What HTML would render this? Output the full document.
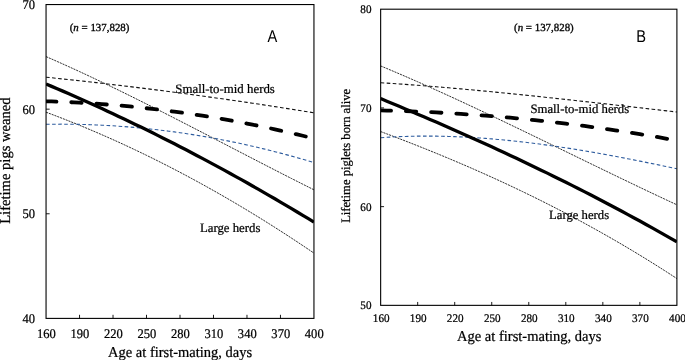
<!DOCTYPE html>
<html lang="en"><head><meta charset="utf-8"><title>Lifetime performance by age at first-mating</title>
<style>
html,body{margin:0;padding:0;background:#fff;}
body{width:685px;height:360px;overflow:hidden;}
svg{display:block;will-change:transform;}
text{font-family:"Liberation Serif",serif;text-rendering:geometricPrecision;fill:#000;stroke:#000;stroke-width:0.24px;}
.sans{font-family:"Liberation Sans",sans-serif;stroke:none;}
.n{stroke-width:0.34px;}
</style></head><body>
<svg width="685" height="360" viewBox="0 0 685 360">
<rect width="685" height="360" fill="#fff"/>

<g id="panelA">
<clipPath id="ca"><rect x="46.05" y="4.55" width="267.90" height="313.85"/></clipPath>
<g clip-path="url(#ca)" fill="none">
<path d="M46.05,56.60 L51.63,59.03 L57.21,61.49 L62.79,63.98 L68.38,66.50 L73.96,69.04 L79.54,71.60 L85.12,74.19 L90.70,76.81 L96.28,79.44 L101.86,82.10 L107.44,84.77 L113.02,87.47 L118.61,90.18 L124.19,92.92 L129.77,95.66 L135.35,98.43 L140.93,101.21 L146.51,104.00 L152.09,106.81 L157.67,109.62 L163.26,112.45 L168.84,115.29 L174.42,118.14 L180.00,121.00 L185.58,123.87 L191.16,126.74 L196.74,129.62 L202.32,132.50 L207.91,135.39 L213.49,138.28 L219.07,141.17 L224.65,144.06 L230.23,146.96 L235.81,149.85 L241.39,152.74 L246.97,155.63 L252.56,158.52 L258.14,161.40 L263.72,164.28 L269.30,167.15 L274.88,170.01 L280.46,172.87 L286.04,175.72 L291.62,178.56 L297.21,181.39 L302.79,184.20 L308.37,187.01 L313.95,189.80" stroke="#000" stroke-width="0.82" stroke-dasharray="2.1 0.9"/>
<path d="M46.05,112.20 L51.63,114.29 L57.21,116.42 L62.79,118.58 L68.38,120.78 L73.96,123.01 L79.54,125.28 L85.12,127.59 L90.70,129.93 L96.28,132.31 L101.86,134.73 L107.44,137.18 L113.02,139.66 L118.61,142.18 L124.19,144.74 L129.77,147.34 L135.35,149.97 L140.93,152.63 L146.51,155.33 L152.09,158.07 L157.67,160.85 L163.26,163.66 L168.84,166.50 L174.42,169.38 L180.00,172.30 L185.58,175.25 L191.16,178.24 L196.74,181.27 L202.32,184.33 L207.91,187.43 L213.49,190.56 L219.07,193.73 L224.65,196.93 L230.23,200.17 L235.81,203.45 L241.39,206.76 L246.97,210.11 L252.56,213.50 L258.14,216.92 L263.72,220.37 L269.30,223.87 L274.88,227.40 L280.46,230.96 L286.04,234.56 L291.62,238.20 L297.21,241.87 L302.79,245.58 L308.37,249.32 L313.95,253.10" stroke="#000" stroke-width="0.82" stroke-dasharray="2.1 0.9"/>
<path d="M46.05,77.20 L51.63,77.78 L57.21,78.36 L62.79,78.96 L68.38,79.56 L73.96,80.16 L79.54,80.78 L85.12,81.40 L90.70,82.02 L96.28,82.66 L101.86,83.30 L107.44,83.95 L113.02,84.60 L118.61,85.26 L124.19,85.93 L129.77,86.61 L135.35,87.29 L140.93,87.98 L146.51,88.67 L152.09,89.38 L157.67,90.09 L163.26,90.81 L168.84,91.53 L174.42,92.26 L180.00,93.00 L185.58,93.75 L191.16,94.50 L196.74,95.26 L202.32,96.02 L207.91,96.80 L213.49,97.58 L219.07,98.36 L224.65,99.16 L230.23,99.96 L235.81,100.76 L241.39,101.58 L246.97,102.40 L252.56,103.23 L258.14,104.06 L263.72,104.91 L269.30,105.76 L274.88,106.61 L280.46,107.47 L286.04,108.35 L291.62,109.22 L297.21,110.11 L302.79,111.00 L308.37,111.90 L313.95,112.80" stroke="#111" stroke-width="1.1" stroke-dasharray="3.6 2.45"/>
<path d="M46.05,124.30 L51.63,124.22 L57.21,124.18 L62.79,124.17 L68.38,124.21 L73.96,124.28 L79.54,124.38 L85.12,124.53 L90.70,124.71 L96.28,124.93 L101.86,125.19 L107.44,125.48 L113.02,125.81 L118.61,126.18 L124.19,126.59 L129.77,127.03 L135.35,127.51 L140.93,128.03 L146.51,128.58 L152.09,129.18 L157.67,129.81 L163.26,130.47 L168.84,131.18 L174.42,131.92 L180.00,132.70 L185.58,133.52 L191.16,134.37 L196.74,135.26 L202.32,136.19 L207.91,137.16 L213.49,138.16 L219.07,139.20 L224.65,140.28 L230.23,141.39 L235.81,142.55 L241.39,143.74 L246.97,144.96 L252.56,146.23 L258.14,147.53 L263.72,148.87 L269.30,150.24 L274.88,151.66 L280.46,153.11 L286.04,154.60 L291.62,156.12 L297.21,157.69 L302.79,159.29 L308.37,160.92 L313.95,162.60" stroke="#2e5c9e" stroke-width="1.1" stroke-dasharray="3.6 2.45"/>
<path d="M46.05,84.00 L51.63,86.36 L57.21,88.74 L62.79,91.14 L68.38,93.57 L73.96,96.02 L79.54,98.48 L85.12,100.98 L90.70,103.49 L96.28,106.02 L101.86,108.58 L107.44,111.16 L113.02,113.76 L118.61,116.39 L124.19,119.03 L129.77,121.70 L135.35,124.39 L140.93,127.10 L146.51,129.83 L152.09,132.59 L157.67,135.37 L163.26,138.17 L168.84,140.99 L174.42,143.83 L180.00,146.70 L185.58,149.59 L191.16,152.50 L196.74,155.43 L202.32,158.38 L207.91,161.36 L213.49,164.36 L219.07,167.38 L224.65,170.42 L230.23,173.49 L235.81,176.57 L241.39,179.68 L246.97,182.81 L252.56,185.97 L258.14,189.14 L263.72,192.34 L269.30,195.56 L274.88,198.80 L280.46,202.06 L286.04,205.34 L291.62,208.65 L297.21,211.98 L302.79,215.33 L308.37,218.70 L313.95,222.10" stroke="#000" stroke-width="3.3"/>
<path d="M46.05,101.30 L51.63,101.46 L57.21,101.65 L62.79,101.87 L68.38,102.11 L73.96,102.38 L79.54,102.67 L85.12,102.99 L90.70,103.33 L96.28,103.70 L101.86,104.10 L107.44,104.53 L113.02,104.97 L118.61,105.45 L124.19,105.95 L129.77,106.48 L135.35,107.03 L140.93,107.61 L146.51,108.22 L152.09,108.85 L157.67,109.51 L163.26,110.19 L168.84,110.90 L174.42,111.64 L180.00,112.40 L185.58,113.19 L191.16,114.00 L196.74,114.84 L202.32,115.71 L207.91,116.60 L213.49,117.52 L219.07,118.46 L224.65,119.43 L230.23,120.43 L235.81,121.45 L241.39,122.50 L246.97,123.58 L252.56,124.68 L258.14,125.80 L263.72,126.95 L269.30,128.13 L274.88,129.34 L280.46,130.57 L286.04,131.83 L291.62,133.11 L297.21,134.42 L302.79,135.75 L308.37,137.11 L313.95,138.50" stroke="#000" stroke-width="3.8" stroke-linecap="round" stroke-dasharray="10.4 14.82"/>
</g>
<rect x="46.05" y="4.55" width="267.90" height="313.85" fill="none" stroke="#000" stroke-width="1.1"/>
<path d="M79.54,318.4 v-3.6 M113.02,318.4 v-3.6 M146.51,318.4 v-3.6 M180.00,318.4 v-3.6 M213.49,318.4 v-3.6 M246.97,318.4 v-3.6 M280.46,318.4 v-3.6 M46.05,109.17 h3.6 M46.05,213.78 h3.6" stroke="#000" stroke-width="0.9" fill="none"/>
<text transform="translate(35.10,8.90) scale(0.95,1)" font-size="13.2" text-anchor="end">70</text>
<text transform="translate(35.10,113.52) scale(0.95,1)" font-size="13.2" text-anchor="end">60</text>
<text transform="translate(35.10,218.13) scale(0.95,1)" font-size="13.2" text-anchor="end">50</text>
<text transform="translate(35.10,322.75) scale(0.95,1)" font-size="13.2" text-anchor="end">40</text>
<text transform="translate(46.35,338.30) scale(0.95,1)" font-size="13.2" text-anchor="middle">160</text>
<text transform="translate(79.84,338.30) scale(0.95,1)" font-size="13.2" text-anchor="middle">190</text>
<text transform="translate(113.32,338.30) scale(0.95,1)" font-size="13.2" text-anchor="middle">220</text>
<text transform="translate(146.81,338.30) scale(0.95,1)" font-size="13.2" text-anchor="middle">250</text>
<text transform="translate(180.30,338.30) scale(0.95,1)" font-size="13.2" text-anchor="middle">280</text>
<text transform="translate(213.79,338.30) scale(0.95,1)" font-size="13.2" text-anchor="middle">310</text>
<text transform="translate(247.27,338.30) scale(0.95,1)" font-size="13.2" text-anchor="middle">340</text>
<text transform="translate(280.76,338.30) scale(0.95,1)" font-size="13.2" text-anchor="middle">370</text>
<text transform="translate(314.25,338.30) scale(0.95,1)" font-size="13.2" text-anchor="middle">400</text>
<text transform="translate(180.10,356.90) scale(0.96,1)" font-size="15.1" text-anchor="middle">Age at first-mating, days</text>
<text transform="translate(9.80,160.60) rotate(-90) scale(0.967,1)" font-size="15.1" text-anchor="middle">Lifetime pigs weaned</text>
<text class="n" transform="translate(69.70,31.40)" font-size="10.9">(<tspan font-style="italic">n</tspan> = 137,828)</text>
<text class="sans" transform="translate(267.40,41.70) scale(0.86,1)" font-size="17">A</text>
<text transform="translate(175.30,93.20)" font-size="12.85">Small-to-mid herds</text>
<text transform="translate(199.90,231.80)" font-size="12.8">Large herds</text>
</g>
<g id="panelB">
<clipPath id="cb"><rect x="380.65" y="9.2" width="296.25" height="296.15"/></clipPath>
<g clip-path="url(#cb)" fill="none">
<path d="M380.65,65.93 L386.82,68.51 L392.99,71.12 L399.17,73.76 L405.34,76.42 L411.51,79.10 L417.68,81.81 L423.85,84.55 L430.02,87.30 L436.20,90.08 L442.37,92.87 L448.54,95.69 L454.71,98.52 L460.88,101.37 L467.06,104.24 L473.23,107.12 L479.40,110.02 L485.57,112.93 L491.74,115.85 L497.92,118.78 L504.09,121.73 L510.26,124.68 L516.43,127.65 L522.60,130.62 L528.77,133.60 L534.95,136.58 L541.12,139.57 L547.29,142.57 L553.46,145.57 L559.63,148.57 L565.81,151.57 L571.98,154.57 L578.15,157.58 L584.32,160.58 L590.49,163.58 L596.67,166.57 L602.84,169.56 L609.01,172.55 L615.18,175.53 L621.35,178.51 L627.52,181.47 L633.70,184.43 L639.87,187.38 L646.04,190.32 L652.21,193.25 L658.38,196.16 L664.56,199.06 L670.73,201.95 L676.90,204.82" stroke="#000" stroke-width="0.82" stroke-dasharray="2.1 0.9"/>
<path d="M380.65,131.58 L386.82,133.89 L392.99,136.23 L399.17,138.59 L405.34,140.97 L411.51,143.38 L417.68,145.81 L423.85,148.27 L430.02,150.76 L436.20,153.27 L442.37,155.81 L448.54,158.38 L454.71,160.98 L460.88,163.61 L467.06,166.26 L473.23,168.95 L479.40,171.67 L485.57,174.42 L491.74,177.20 L497.92,180.02 L504.09,182.87 L510.26,185.75 L516.43,188.67 L522.60,191.62 L528.77,194.61 L534.95,197.63 L541.12,200.69 L547.29,203.79 L553.46,206.93 L559.63,210.11 L565.81,213.32 L571.98,216.58 L578.15,219.87 L584.32,223.21 L590.49,226.59 L596.67,230.01 L602.84,233.47 L609.01,236.98 L615.18,240.53 L621.35,244.12 L627.52,247.76 L633.70,251.45 L639.87,255.18 L646.04,258.96 L652.21,262.79 L658.38,266.66 L664.56,270.58 L670.73,274.56 L676.90,278.58" stroke="#000" stroke-width="0.82" stroke-dasharray="2.1 0.9"/>
<path d="M380.65,82.70 L386.82,83.10 L392.99,83.51 L399.17,83.93 L405.34,84.37 L411.51,84.83 L417.68,85.29 L423.85,85.77 L430.02,86.26 L436.20,86.76 L442.37,87.28 L448.54,87.80 L454.71,88.34 L460.88,88.88 L467.06,89.44 L473.23,90.01 L479.40,90.59 L485.57,91.17 L491.74,91.77 L497.92,92.37 L504.09,92.98 L510.26,93.60 L516.43,94.23 L522.60,94.86 L528.77,95.50 L534.95,96.15 L541.12,96.80 L547.29,97.46 L553.46,98.12 L559.63,98.79 L565.81,99.47 L571.98,100.14 L578.15,100.83 L584.32,101.51 L590.49,102.20 L596.67,102.89 L602.84,103.59 L609.01,104.28 L615.18,104.98 L621.35,105.68 L627.52,106.39 L633.70,107.09 L639.87,107.79 L646.04,108.49 L652.21,109.20 L658.38,109.90 L664.56,110.60 L670.73,111.30 L676.90,112.00" stroke="#111" stroke-width="1.1" stroke-dasharray="3.6 2.45"/>
<path d="M380.65,137.70 L386.82,137.29 L392.99,136.95 L399.17,136.66 L405.34,136.44 L411.51,136.27 L417.68,136.16 L423.85,136.11 L430.02,136.11 L436.20,136.16 L442.37,136.27 L448.54,136.43 L454.71,136.64 L460.88,136.90 L467.06,137.20 L473.23,137.56 L479.40,137.96 L485.57,138.40 L491.74,138.89 L497.92,139.43 L504.09,140.00 L510.26,140.62 L516.43,141.27 L522.60,141.97 L528.77,142.70 L534.95,143.47 L541.12,144.27 L547.29,145.11 L553.46,145.98 L559.63,146.89 L565.81,147.83 L571.98,148.79 L578.15,149.79 L584.32,150.81 L590.49,151.86 L596.67,152.94 L602.84,154.04 L609.01,155.16 L615.18,156.31 L621.35,157.48 L627.52,158.67 L633.70,159.88 L639.87,161.11 L646.04,162.35 L652.21,163.61 L658.38,164.89 L664.56,166.18 L670.73,167.48 L676.90,168.80" stroke="#2e5c9e" stroke-width="1.1" stroke-dasharray="3.6 2.45"/>
<path d="M380.65,98.60 L386.82,101.16 L392.99,103.73 L399.17,106.32 L405.34,108.91 L411.51,111.53 L417.68,114.15 L423.85,116.79 L430.02,119.44 L436.20,122.11 L442.37,124.80 L448.54,127.50 L454.71,130.21 L460.88,132.95 L467.06,135.70 L473.23,138.46 L479.40,141.25 L485.57,144.05 L491.74,146.87 L497.92,149.71 L504.09,152.57 L510.26,155.45 L516.43,158.34 L522.60,161.26 L528.77,164.20 L534.95,167.16 L541.12,170.14 L547.29,173.14 L553.46,176.17 L559.63,179.22 L565.81,182.29 L571.98,185.38 L578.15,188.50 L584.32,191.64 L590.49,194.80 L596.67,198.00 L602.84,201.21 L609.01,204.45 L615.18,207.72 L621.35,211.01 L627.52,214.33 L633.70,217.68 L639.87,221.05 L646.04,224.46 L652.21,227.89 L658.38,231.35 L664.56,234.84 L670.73,238.35 L676.90,241.90" stroke="#000" stroke-width="3.3"/>
<path d="M380.65,110.40 L386.82,110.55 L392.99,110.72 L399.17,110.91 L405.34,111.12 L411.51,111.35 L417.68,111.60 L423.85,111.87 L430.02,112.16 L436.20,112.47 L442.37,112.79 L448.54,113.14 L454.71,113.51 L460.88,113.90 L467.06,114.31 L473.23,114.74 L479.40,115.18 L485.57,115.65 L491.74,116.14 L497.92,116.65 L504.09,117.18 L510.26,117.73 L516.43,118.31 L522.60,118.90 L528.77,119.51 L534.95,120.14 L541.12,120.80 L547.29,121.47 L553.46,122.17 L559.63,122.88 L565.81,123.62 L571.98,124.38 L578.15,125.16 L584.32,125.96 L590.49,126.78 L596.67,127.63 L602.84,128.49 L609.01,129.38 L615.18,130.28 L621.35,131.21 L627.52,132.16 L633.70,133.13 L639.87,134.13 L646.04,135.14 L652.21,136.18 L658.38,137.24 L664.56,138.32 L670.73,139.42 L676.90,140.55" stroke="#000" stroke-width="3.8" stroke-linecap="round" stroke-dasharray="10.4 14.85"/>
</g>
<rect x="380.65" y="9.2" width="296.25" height="296.15" fill="none" stroke="#000" stroke-width="1.1"/>
<path d="M417.68,305.35 v-3.4 M454.71,305.35 v-3.4 M491.74,305.35 v-3.4 M528.77,305.35 v-3.4 M565.81,305.35 v-3.4 M602.84,305.35 v-3.4 M639.87,305.35 v-3.4 M380.65,107.92 h3.4 M380.65,206.63 h3.4" stroke="#000" stroke-width="0.9" fill="none"/>
<text transform="translate(371.50,13.15) scale(0.96,1)" font-size="11.6" text-anchor="end">80</text>
<text transform="translate(371.50,111.87) scale(0.96,1)" font-size="11.6" text-anchor="end">70</text>
<text transform="translate(371.50,210.58) scale(0.96,1)" font-size="11.6" text-anchor="end">60</text>
<text transform="translate(371.50,309.30) scale(0.96,1)" font-size="11.6" text-anchor="end">50</text>
<text transform="translate(381.15,322.10) scale(0.96,1)" font-size="11.6" text-anchor="middle">160</text>
<text transform="translate(418.18,322.10) scale(0.96,1)" font-size="11.6" text-anchor="middle">190</text>
<text transform="translate(455.21,322.10) scale(0.96,1)" font-size="11.6" text-anchor="middle">220</text>
<text transform="translate(492.24,322.10) scale(0.96,1)" font-size="11.6" text-anchor="middle">250</text>
<text transform="translate(529.27,322.10) scale(0.96,1)" font-size="11.6" text-anchor="middle">280</text>
<text transform="translate(566.31,322.10) scale(0.96,1)" font-size="11.6" text-anchor="middle">310</text>
<text transform="translate(603.34,322.10) scale(0.96,1)" font-size="11.6" text-anchor="middle">340</text>
<text transform="translate(640.37,322.10) scale(0.96,1)" font-size="11.6" text-anchor="middle">370</text>
<text transform="translate(677.40,322.10) scale(0.96,1)" font-size="11.6" text-anchor="middle">400</text>
<text transform="translate(529.20,340.70) scale(0.962,1)" font-size="15.1" text-anchor="middle">Age at first-mating, days</text>
<text transform="translate(350.40,155.90) rotate(-90) scale(0.977,1)" font-size="12.9" text-anchor="middle">Lifetime piglets born alive</text>
<text class="n" transform="translate(514.00,31.30)" font-size="10.9">(<tspan font-style="italic">n</tspan> = 137,828)</text>
<text class="sans" transform="translate(636.20,41.70) scale(0.86,1)" font-size="17">B</text>
<text transform="translate(530.40,112.70)" font-size="12.75">Small-to-mid herds</text>
<text transform="translate(549.10,219.10)" font-size="12.7">Large herds</text>
</g>
</svg></body></html>
